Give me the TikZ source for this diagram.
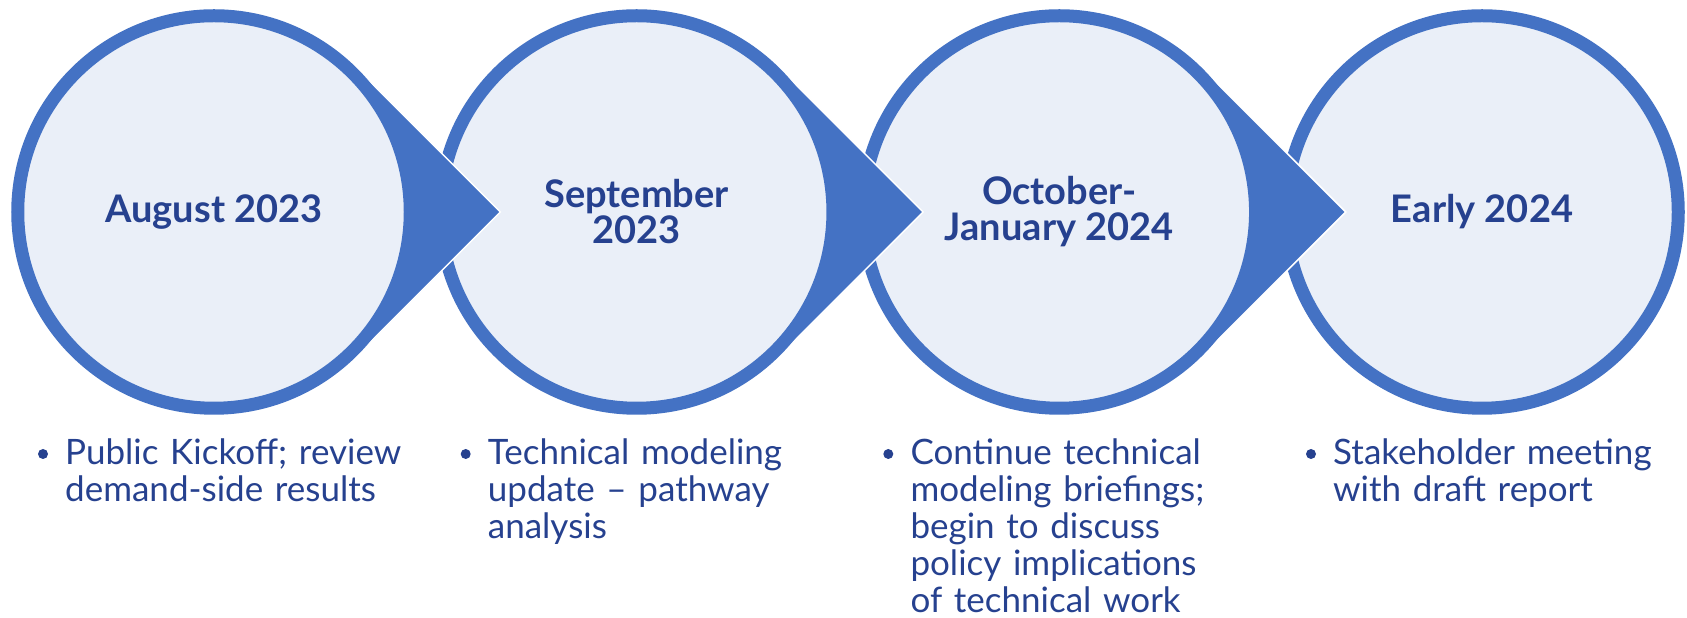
\documentclass[tikz,border=0pt]{standalone}
\usepackage{fontspec}
\setmainfont{Lato}
\usetikzlibrary{calc}

\definecolor{ringblue}{HTML}{4472C4}
\definecolor{palefill}{HTML}{EAEFF8}
\definecolor{navy}{HTML}{26418F}

\begin{document}
\begin{tikzpicture}[x=1pt,y=1pt,
    stage/.style={circle, minimum size=392.5pt, inner sep=0pt, draw=ringblue, line width=13pt,
      fill=palefill, text=navy, align=center, font=\fontsize{38}{36}\selectfont\bfseries},
    pointer/.style={fill=ringblue, draw=white, line width=1.5pt},
    dot/.style={circle, fill=navy, inner sep=0pt, minimum size=10pt},
    item/.style={anchor=base west, inner sep=0pt, text=navy, text width=350pt,
      font=\fontsize{35}{37}\selectfont}]
  \useasboundingbox (0,0) rectangle (1687,618);

  % circles, right to left so each pointer lies over the next one
  \coordinate (c4) at (1482,406);
  \node[stage] (s4) at (c4) {Early 2024};

  \coordinate (c3) at (1059.3,406);
  \path[pointer] ($(c3)+(286.4,0)$) -- ($(c3)+(45:202.5)$) arc[start angle=45, end angle=315, radius=202.5] -- cycle;
  \node[stage] (s3) at (c3) {October-\\January 2024};

  \coordinate (c2) at (636.7,406);
  \path[pointer] ($(c2)+(286.4,0)$) -- ($(c2)+(45:202.5)$) arc[start angle=45, end angle=315, radius=202.5] -- cycle;
  \node[stage] (s2) at (c2) {September\\2023};

  \coordinate (c1) at (214,406);
  \path[pointer] ($(c1)+(286.4,0)$) -- ($(c1)+(45:202.5)$) arc[start angle=45, end angle=315, radius=202.5] -- cycle;
  \node[stage] (s1) at (c1) {August 2023};

  % bullet texts
  \node[item] (b1) at (65,153) {Public Kickoff; review\\demand-side results};
  \node[item] (b2) at (487.7,153) {Technical modeling\\update -- pathway\\analysis};
  \node[item] (b3) at (910.3,153) {Continue technical\\modeling briefings;\\begin to discuss\\policy implications\\of technical work};
  \node[item] (b4) at (1333,153) {Stakeholder meeting\\with draft report};

  \node[dot] (d1) at ($(b1.base west)+(-22,11)$) {};
  \node[dot] (d2) at ($(b2.base west)+(-22,11)$) {};
  \node[dot] (d3) at ($(b3.base west)+(-22,11)$) {};
  \node[dot] (d4) at ($(b4.base west)+(-22,11)$) {};
\end{tikzpicture}
\end{document}
